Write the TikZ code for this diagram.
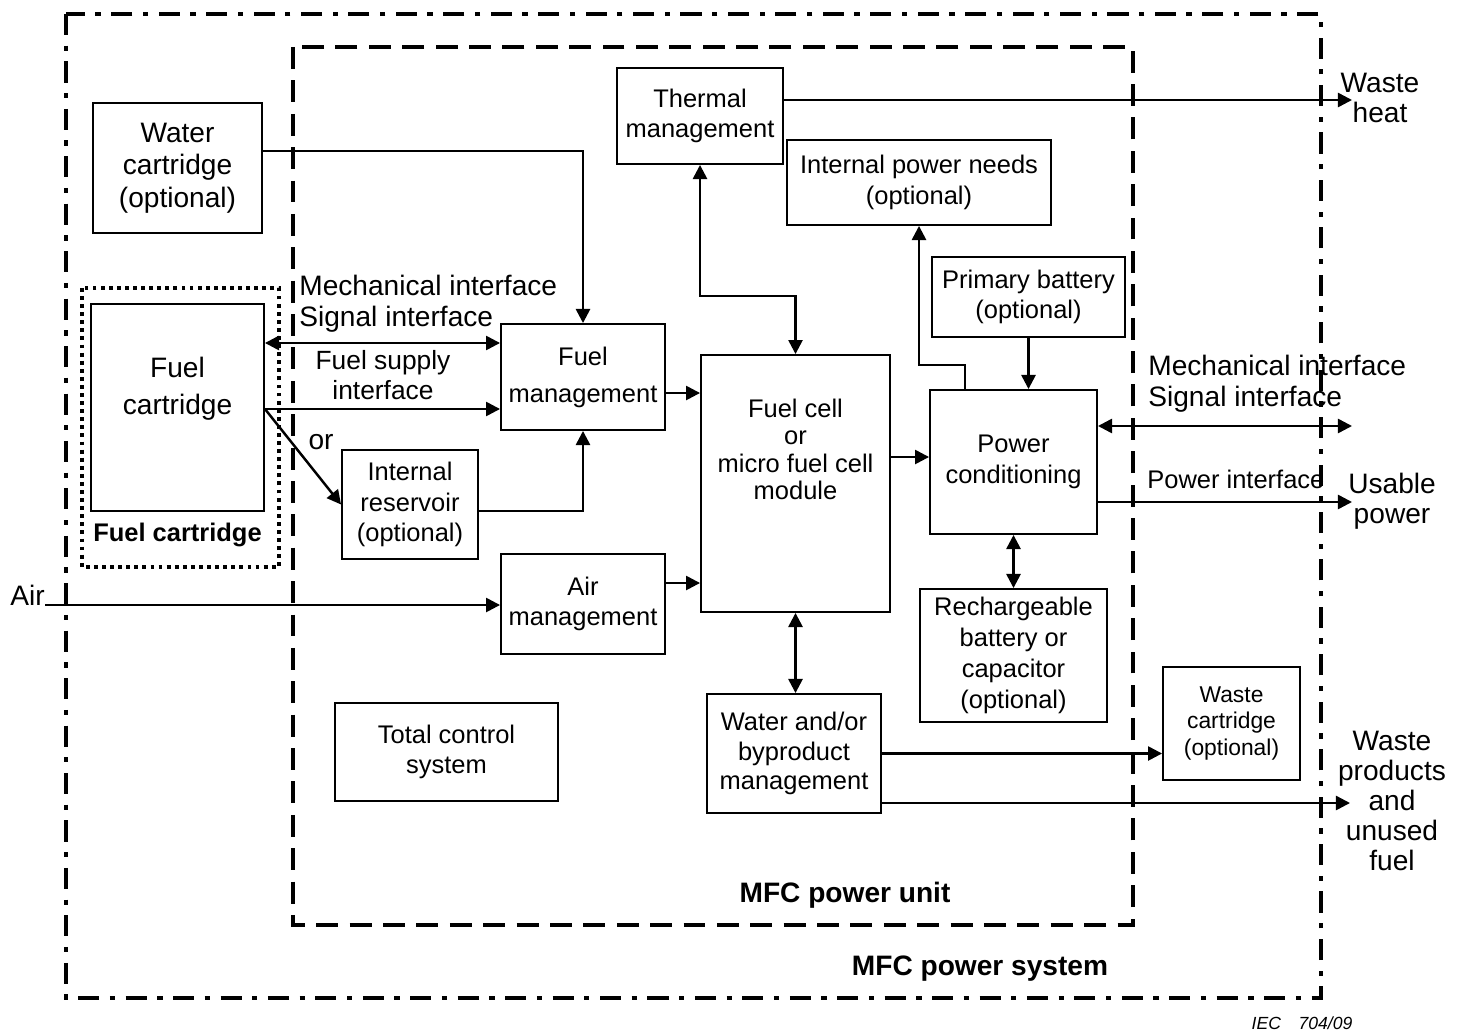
\documentclass[tikz,border=0pt]{standalone}
\usepackage{fontspec}
\setmainfont{Liberation Sans}
\usetikzlibrary{arrows.meta,positioning}

\begin{document}
\begin{tikzpicture}[
    x=0.02cm, y=-0.02cm,
    >={Triangle[length=8pt, width=8pt]},
    box/.style={rectangle, draw=black, line width=1.1pt, inner sep=0pt, align=center, font=\fontsize{14.5}{17.5}\selectfont},
    bigbox/.style={box, font=\fontsize{16}{18.4}\selectfont},
    txt/.style={inner sep=0pt, align=center, font=\fontsize{16}{17}\selectfont},
    sidetxt/.style={inner sep=0pt, align=left, anchor=west, font=\fontsize{16}{17.6}\selectfont},
    head/.style={inner sep=0pt, font=\fontsize{16}{18}\selectfont\bfseries},
    arrow/.style={->, line width=1.4pt},
    dblarrow/.style={<->, line width=1.4pt},
    sysline/.style={line width=2.6pt, dash pattern=on 12pt off 6pt on 3pt off 6pt},
    unitline/.style={line width=2.4pt, dash pattern=on 12.5pt off 6.5pt},
    cartline/.style={line width=2.2pt, dash pattern=on 2.2pt off 2.4pt}
]
\useasboundingbox (0,0) rectangle (1462,1030);

% Frames
\draw[sysline] (66,14) rectangle (1321,998);
\draw[unitline] (293,47) rectangle (1133,925);
\draw[cartline] (82,288) rectangle (279,567);

% Cartridges
\node[bigbox, minimum width=3.38cm, minimum height=2.6cm] (wcart) at (177.5,168) {Water\\cartridge\\(optional)};
\node[box, minimum width=3.46cm, minimum height=4.14cm] (fcart) at (177.5,407.5) {};
\node[txt, font=\fontsize{16}{21}\selectfont] (fcarttxt) at (177.5,389) {Fuel\\cartridge};
\node[head, font=\fontsize{14.5}{17}\selectfont\bfseries, below=0.22cm of fcart] (fcartlbl) {Fuel cartridge};

% Power unit
\node[box, minimum width=3.32cm, minimum height=1.92cm] (thermal) at (700,116) {Thermal\\management};
\node[box, minimum width=5.28cm, minimum height=1.7cm] (ipower) at (919,182.5) {Internal power needs\\(optional)};
\node[box, minimum width=3.86cm, minimum height=1.6cm] (pbatt) at (1028.5,297) {Primary battery\\(optional)};
\node[box, minimum width=3.28cm, minimum height=2.12cm, font=\fontsize{14.5}{21}\selectfont] (fuelmgmt) at (583,377) {Fuel\\management};
\node[box, minimum width=2.72cm, minimum height=2.18cm] (ires) at (410,504.5) {Internal\\reservoir\\(optional)};
\node[box, minimum width=3.28cm, minimum height=2.0cm] (airmgmt) at (583,604) {Air\\management};
\node[box, minimum width=3.78cm, minimum height=5.14cm] (fcell) at (795.5,483.5) {};
\node[txt, font=\fontsize{14.5}{15.6}\selectfont] (fcelltxt) at (795.5,449.5) {Fuel cell\\or\\micro fuel cell\\module};
\node[box, minimum width=3.34cm, minimum height=2.88cm] (pcond) at (1013.5,462) {Power\\conditioning};
\node[box, minimum width=3.74cm, minimum height=2.66cm] (rbatt) at (1013.5,655.5) {Rechargeable\\battery or\\capacitor\\(optional)};
\node[box, minimum width=4.46cm, minimum height=1.96cm] (tcs) at (446.5,752) {Total control\\system};
\node[box, minimum width=3.48cm, minimum height=2.38cm, font=\fontsize{14.5}{16.7}\selectfont] (wbm) at (794,753.5) {Water and/or\\byproduct\\management};
\node[box, minimum width=2.74cm, minimum height=2.26cm, font=\fontsize{13}{15.3}\selectfont] (wastecart) at (1231.5,723.5) {Waste\\cartridge\\(optional)};

% Labels
\node[sidetxt] (mechl) at (299,304) {Mechanical interface\\Signal interface};
\node[sidetxt] (mechr) at (1148,384) {Mechanical interface\\Signal interface};
\node[txt, font=\fontsize{15}{17.4}\selectfont] (fsupply) at (383,375) {Fuel supply\\interface};
\node[txt] (ortxt) at (321,442) {or};
\node[sidetxt, font=\fontsize{14.5}{17}\selectfont] (pwrif) at (1147,479) {Power interface};
\node[txt] (wheat) at (1380,98) {Waste\\heat};
\node[txt] (usable) at (1392,501) {Usable\\power};
\node[txt] (wprod) at (1392,801) {Waste\\products\\and\\unused\\fuel};
\node[txt, anchor=base east] (air) at (45,605) {Air};
\node[head] (unitlbl) at (845,895) {MFC power unit};
\node[head] (syslbl) at (980,969) {MFC power system};
\node[inner sep=0pt, font=\fontsize{10}{12}\selectfont\itshape] (figno) at (1302,1023) {IEC\quad 704/09};

% Free ends
\coordinate (split) at (fcart.east |- 0,409);
\coordinate (heatout) at (1352,100);
\coordinate (sigout) at (1352,426);
\coordinate (powout) at (1352,502);
\coordinate (wasteout) at (1350,803);

% Arrows
\draw[arrow] (wcart.east |- 0,151) -| (fuelmgmt.north);
\draw[dblarrow] (fcart.east |- 0,343) -- (fuelmgmt.west |- 0,343);
\draw[arrow] (split) -- (fuelmgmt.west |- split);
\draw[arrow] (split) -- (ires.west);
\draw[arrow] (ires.east |- 0,511) -| (fuelmgmt.south);
\draw[arrow] (fuelmgmt.east |- 0,393) -- (fcell.west |- 0,393);
\draw[arrow] (airmgmt.east |- 0,583) -- (fcell.west |- 0,583);
\draw[arrow] (air.base east) -- (airmgmt.west |- air.base east);
\draw[dblarrow] (thermal.south) -- ++(0,131) -| (fcell.north);
\draw[arrow] (thermal.east |- heatout) -- (heatout);
\draw[arrow] (fcell.east |- 0,457) -- (pcond.west |- 0,457);
\draw[arrow] (pcond.north -| 965,0) -- ++(0,-24) -| (ipower.south);
\draw[arrow] (pbatt.south) -- (pcond.north -| pbatt.south);
\draw[dblarrow] (pcond.east |- sigout) -- (sigout);
\draw[arrow] (pcond.east |- powout) -- (powout);
\draw[dblarrow] (pcond.south) -- (rbatt.north);
\draw[dblarrow] (fcell.south) -- (fcell.south |- wbm.north);
\draw[arrow] (wbm.east) -- (wastecart.west |- wbm.east);
\draw[arrow] (wbm.east |- wasteout) -- (wasteout);
\end{tikzpicture}
\end{document}
